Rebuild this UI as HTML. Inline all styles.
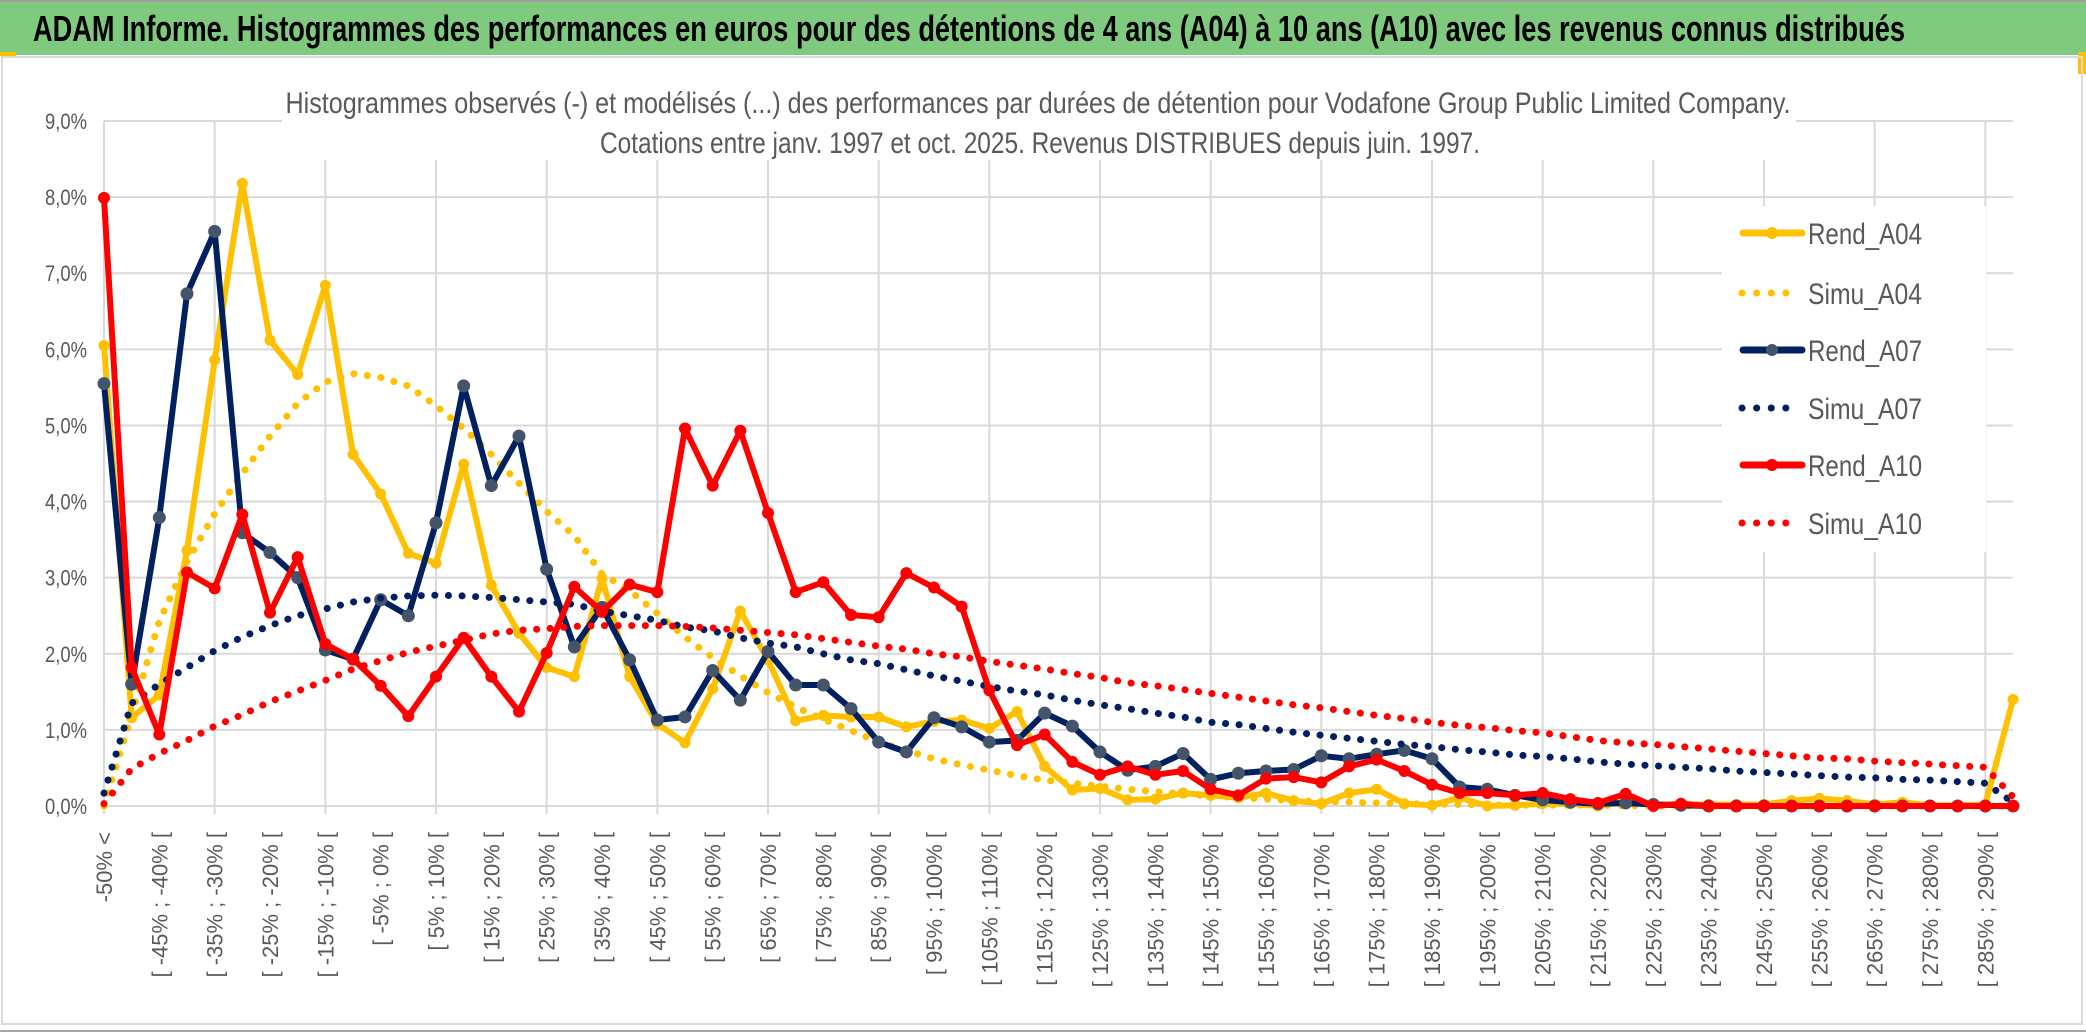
<!DOCTYPE html>
<html><head><meta charset="utf-8">
<style>
html,body{margin:0;padding:0;background:#fff;}
body{width:2086px;height:1033px;overflow:hidden;position:relative;font-family:"Liberation Sans",sans-serif;}
svg{position:absolute;left:0;top:0;}
</style></head>
<body>
<svg id="chart" width="2086" height="1033" viewBox="0 0 2086 1033" xmlns="http://www.w3.org/2000/svg">
  <rect x="0" y="0" width="2086" height="1033" fill="#ffffff"/>
  <rect x="0" y="2" width="2086" height="53" fill="#7fca7f"/>
  <line x1="0" y1="1" x2="2086" y2="1" stroke="#a0a0a0" stroke-width="2"/>
  <rect x="0" y="52" width="16" height="4" fill="#ffc000"/>
  <rect x="2078" y="52" width="8" height="22" fill="#ffc000"/>
  <text x="33" y="41" font-size="36" font-weight="bold" fill="#000" textLength="1872" lengthAdjust="spacingAndGlyphs">ADAM Informe. Histogrammes des performances en euros pour des détentions de 4 ans (A04) à 10 ans (A10) avec les revenus connus distribués</text>
  <rect x="2" y="57" width="2080" height="967" fill="none" stroke="#d9d9d9" stroke-width="2"/>
  <line x1="0" y1="1031" x2="2086" y2="1031" stroke="#a6a6a6" stroke-width="2"/>
  <g id="grid"></g>
  <g id="yaxis"></g>
  <g id="xaxis"></g>
  <rect x="282" y="80" width="1514" height="80" fill="#fff"/>
  <text x="1038" y="113" font-size="30" fill="#595959" text-anchor="middle" textLength="1505" lengthAdjust="spacingAndGlyphs">Histogrammes observés (-) et modélisés (...) des performances par durées de détention pour Vodafone Group Public Limited Company.</text>
  <text x="1040" y="153" font-size="30" fill="#595959" text-anchor="middle" textLength="880" lengthAdjust="spacingAndGlyphs">Cotations entre janv. 1997 et oct. 2025. Revenus DISTRIBUES depuis juin. 1997.</text>
  <g id="series"></g>
  <g id="legend"></g>
</svg>
<script>
const categories = ["-50% <","[ -50% ; -45% [","[ -45% ; -40% [","[ -40% ; -35% [","[ -35% ; -30% [","[ -30% ; -25% [","[ -25% ; -20% [","[ -20% ; -15% [","[ -15% ; -10% [","[ -10% ; -5% [",
"[ -5% ; 0% [","[ 0% ; 5% [","[ 5% ; 10% [","[ 10% ; 15% [","[ 15% ; 20% [","[ 20% ; 25% [","[ 25% ; 30% [","[ 30% ; 35% [","[ 35% ; 40% [","[ 40% ; 45% [",
"[ 45% ; 50% [","[ 50% ; 55% [","[ 55% ; 60% [","[ 60% ; 65% [","[ 65% ; 70% [","[ 70% ; 75% [","[ 75% ; 80% [","[ 80% ; 85% [","[ 85% ; 90% [","[ 90% ; 95% [",
"[ 95% ; 100% [","[ 100% ; 105% [","[ 105% ; 110% [","[ 110% ; 115% [","[ 115% ; 120% [","[ 120% ; 125% [","[ 125% ; 130% [","[ 130% ; 135% [","[ 135% ; 140% [","[ 140% ; 145% [",
"[ 145% ; 150% [","[ 150% ; 155% [","[ 155% ; 160% [","[ 160% ; 165% [","[ 165% ; 170% [","[ 170% ; 175% [","[ 175% ; 180% [","[ 180% ; 185% [","[ 185% ; 190% [","[ 190% ; 195% [",
"[ 195% ; 200% [","[ 200% ; 205% [","[ 205% ; 210% [","[ 210% ; 215% [","[ 215% ; 220% [","[ 220% ; 225% [","[ 225% ; 230% [","[ 230% ; 235% [","[ 235% ; 240% [","[ 240% ; 245% [",
"[ 245% ; 250% [","[ 250% ; 255% [","[ 255% ; 260% [","[ 260% ; 265% [","[ 265% ; 270% [","[ 270% ; 275% [","[ 275% ; 280% [","[ 280% ; 285% [","[ 285% ; 290% [","> 290%"];
const yTicks = [0,1,2,3,4,5,6,7,8,9];
const yTickLabels = ["0,0%","1,0%","2,0%","3,0%","4,0%","5,0%","6,0%","7,0%","8,0%","9,0%"];
const rendA04 = [6.05,1.16,1.46,3.36,5.86,8.18,6.12,5.67,6.84,4.62,4.10,3.32,3.19,4.49,2.90,2.27,1.82,1.70,2.99,1.70,1.08,0.83,1.54,2.56,1.92,1.12,1.19,1.17,1.17,1.04,1.11,1.13,1.02,1.24,0.52,0.21,0.23,0.08,0.09,0.17,0.14,0.11,0.17,0.07,0.03,0.17,0.22,0.03,0.01,0.11,0.0,0.01,0.03,0.03,0.0,0.06,0.02,0.02,0.02,0.02,0.02,0.07,0.10,0.07,0.02,0.05,0.01,0.01,0.02,1.40];
const simuA04 = [0.0,1.2,2.43,3.21,3.84,4.37,4.86,5.29,5.57,5.68,5.63,5.52,5.26,4.96,4.62,4.24,3.87,3.55,3.05,2.83,2.53,2.22,1.95,1.71,1.49,1.30,1.14,0.99,0.84,0.73,0.62,0.54,0.47,0.40,0.34,0.30,0.26,0.22,0.19,0.16,0.13,0.11,0.09,0.07,0.06,0.05,0.04,0.03,0.025,0.02,0.015,0.01,0.01,0.01,0.01,0.005,0,0,0,0,0,0,0,0,0,0,0,0,0,0];
const rendA07 = [5.55,1.60,3.79,6.73,7.55,3.59,3.33,3.00,2.05,1.93,2.71,2.50,3.72,5.52,4.21,4.86,3.11,2.09,2.61,1.92,1.13,1.17,1.78,1.39,2.03,1.59,1.59,1.28,0.84,0.71,1.16,1.04,0.84,0.86,1.22,1.05,0.71,0.47,0.52,0.69,0.35,0.43,0.46,0.48,0.66,0.62,0.68,0.73,0.62,0.25,0.22,0.14,0.08,0.05,0.03,0.04,0.02,0.01,0,0,0,0,0,0,0,0,0,0,0,0];
const simuA07 = [0.17,1.35,1.60,1.82,2.04,2.22,2.37,2.50,2.59,2.68,2.73,2.76,2.77,2.76,2.74,2.71,2.68,2.65,2.56,2.50,2.44,2.35,2.30,2.21,2.14,2.09,2.00,1.92,1.87,1.79,1.71,1.64,1.57,1.51,1.46,1.39,1.33,1.28,1.22,1.17,1.10,1.07,1.02,0.97,0.93,0.89,0.85,0.81,0.78,0.74,0.71,0.67,0.65,0.62,0.58,0.55,0.53,0.51,0.49,0.46,0.44,0.42,0.40,0.38,0.37,0.35,0.34,0.32,0.30,0.05];
const rendA10 = [7.99,1.82,0.94,3.07,2.86,3.83,2.54,3.27,2.13,1.93,1.58,1.18,1.70,2.21,1.70,1.24,2.01,2.88,2.55,2.91,2.81,4.96,4.21,4.93,3.85,2.81,2.94,2.51,2.48,3.06,2.87,2.62,1.52,0.80,0.94,0.58,0.41,0.52,0.41,0.46,0.22,0.14,0.36,0.38,0.31,0.52,0.61,0.46,0.28,0.17,0.17,0.14,0.17,0.09,0.04,0.16,0,0.03,0,0,0,0,0,0,0,0,0,0,0,0];
const simuA10 = [0.03,0.49,0.69,0.86,1.05,1.20,1.37,1.51,1.65,1.80,1.91,2.02,2.10,2.18,2.26,2.31,2.33,2.36,2.37,2.37,2.37,2.36,2.34,2.31,2.28,2.25,2.20,2.15,2.10,2.06,2.00,1.96,1.90,1.85,1.80,1.74,1.69,1.62,1.58,1.53,1.48,1.43,1.38,1.33,1.29,1.24,1.19,1.15,1.10,1.06,1.03,0.99,0.96,0.91,0.86,0.83,0.81,0.78,0.75,0.72,0.69,0.66,0.63,0.62,0.59,0.57,0.55,0.53,0.51,0.12];
const seriesNames = ["Rend_A04","Simu_A04","Rend_A07","Simu_A07","Rend_A10","Simu_A10"];

const NS = "http://www.w3.org/2000/svg";
const X0 = 104, X1 = 2013, Y0 = 806, Y9 = 121;
function xPos(i){ return X0 + i * (X1 - X0) / (categories.length - 1); }
function yPos(v){ return Y0 - v * (Y0 - Y9) / 9; }
function mk(tag, attrs, parent){
  const el = document.createElementNS(NS, tag);
  for (const k in attrs) el.setAttribute(k, attrs[k]);
  parent.appendChild(el);
  return el;
}
const grid = document.getElementById('grid');
const yaxis = document.getElementById('yaxis');
const xaxis = document.getElementById('xaxis');
const seriesG = document.getElementById('series');
const legendG = document.getElementById('legend');

yTicks.forEach((t, k) => {
  const ln = mk('line', {x1: X0, x2: X1, y1: yPos(t), y2: yPos(t), stroke: '#d9d9d9', 'stroke-width': 2}, grid);
  
  
  const tx = mk('text', {x: 87, y: yPos(t) + 8, 'font-size': 22, fill: '#595959', 'text-anchor': 'end', textLength: 42, lengthAdjust: 'spacingAndGlyphs'}, yaxis);
  tx.textContent = yTickLabels[k];
  
  
});
categories.forEach((c, i) => {
  if (i % 4 === 0) {
    const ln = mk('line', {x1: xPos(i), x2: xPos(i), y1: Y9, y2: Y0 + 8, stroke: '#d9d9d9', 'stroke-width': 2}, grid);
    
    
  }
  if (i % 2 === 0) {
    const tx = mk('text', {x: 0, y: 0, 'font-size': 22, fill: '#595959', 'text-anchor': 'end',
      transform: 'translate(' + (xPos(i) + 8) + ',832) rotate(-90)'}, xaxis);
    tx.textContent = c;
    
    
  }
});

function pts(arr){ return arr.map((v, i) => xPos(i).toFixed(1) + ',' + yPos(v).toFixed(1)).join(' '); }
function solid(arr, color, mcolor, r, name){
  const g = mk('g', {}, seriesG);
  
  
  const pl = mk('polyline', {points: pts(arr), fill: 'none', stroke: color, 'stroke-width': 6, 'stroke-linejoin': 'round', 'stroke-linecap': 'round'}, g);
  
  
  arr.forEach((v, i) => {
    const c = mk('circle', {cx: xPos(i), cy: yPos(v), r: r, fill: mcolor}, g);
    
    
  });
}
function dotted(arr, color, name){
  const pl = mk('polyline', {points: pts(arr), fill: 'none', stroke: color, 'stroke-width': 7, 'stroke-linecap': 'round', 'stroke-dasharray': '0.1 13.5'}, seriesG);
  
  
}
solid(rendA04, '#ffc000', '#ffc000', 5.5, 'rend-a04-series');
dotted(simuA04, '#ffc000', 'simu-a04-series');
solid(rendA07, '#002060', '#44546a', 6.5, 'rend-a07-series');
dotted(simuA07, '#002060', 'simu-a07-series');
solid(rendA10, '#ff0000', '#ff0000', 6, 'rend-a10-series');
dotted(simuA10, '#ff0000', 'simu-a10-series');

// legend
const lb = mk('rect', {x: 1722, y: 206, width: 264, height: 346, fill: '#fff'}, legendG);


const legColors = ['#ffc000','#ffc000','#002060','#002060','#ff0000','#ff0000'];
const legMarker = ['#ffc000',null,'#44546a',null,'#ff0000',null];
const legY = [233,293,350,408,465,523];
seriesNames.forEach((n, k) => {
  const g = mk('g', {}, legendG);
  
  
  const y = legY[k];
  if (legMarker[k]) {
    const ln = mk('line', {x1: 1743, x2: 1802, y1: y, y2: y, stroke: legColors[k], 'stroke-width': 7, 'stroke-linecap': 'round'}, g);
    
    
    const c = mk('circle', {cx: 1772, cy: y, r: 6, fill: legMarker[k]}, g);
    
    
  } else {
    const ln = mk('line', {x1: 1742, x2: k === 5 ? 1800 : 1790, y1: y, y2: y, stroke: legColors[k], 'stroke-width': 7, 'stroke-linecap': 'round', 'stroke-dasharray': '0.1 14.5'}, g);
    
    
  }
  const tx = mk('text', {x: 1808, y: y + 11, 'font-size': 30, fill: '#595959', textLength: 114, lengthAdjust: 'spacingAndGlyphs'}, g);
  tx.textContent = n;
  
  
});
</script>
</body></html>
